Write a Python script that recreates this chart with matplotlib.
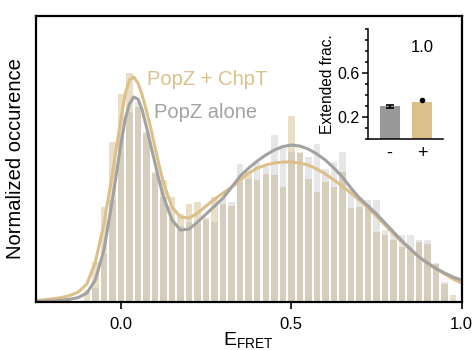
import numpy as np
import matplotlib
matplotlib.use("Agg")
import matplotlib.pyplot as plt
from matplotlib.ticker import MultipleLocator

plt.rcParams["font.family"] = ["Liberation Sans", "DejaVu Sans"]
plt.rcParams["mathtext.fontset"] = "custom"
plt.rcParams["mathtext.rm"] = "Liberation Sans"

# histogram bins (E_FRET centres, width 0.025)
bin_centers = np.round(np.arange(-0.1, 0.976, 0.025), 3)
# occurrence, arbitrary units
hist_chpt = [12, 40, 95, 160, 208, 229, 195, 170, 130, 122, 105, 88,
             98, 100, 84, 105, 98, 96, 120, 130, 122, 128, 127, 115,
             186, 149, 123, 110, 120, 115, 130, 94, 95, 97, 70, 67,
             62, 55, 52, 60, 58, 38, 18, 7]
hist_alone = [0, 14, 49, 102, 168, 190, 200, 168, 128, 105, 82, 76,
              80, 78, 82, 80, 104, 100, 138, 123, 140, 135, 167, 155,
              150, 150, 145, 158, 133, 140, 150, 112, 105, 102, 102, 72,
              70, 67, 67, 62, 62, 39, 20, 0]

# fitted curves
fit_x = [-0.25, -0.225, -0.2, -0.175, -0.15, -0.125, -0.1, -0.075, -0.05,
         -0.025, 0.0, 0.0125, 0.025, 0.0375, 0.05, 0.0625, 0.075, 0.0875,
         0.1, 0.1125, 0.125, 0.15, 0.175, 0.2, 0.225, 0.25, 0.275, 0.3,
         0.325, 0.35, 0.375, 0.4, 0.425, 0.45, 0.475, 0.5, 0.525, 0.55,
         0.575, 0.6, 0.625, 0.65, 0.675, 0.7, 0.725, 0.75, 0.775, 0.8,
         0.825, 0.85, 0.875, 0.9, 0.925, 0.95, 0.975, 1.0]
fit_chpt = [1.5, 2.2, 3.3, 4.5, 6.5, 10, 18, 40, 78,
            128, 183, 208, 222, 225, 219, 207, 191, 174,
            155, 136, 119, 95, 85, 84, 89, 96, 103, 109,
            115, 122, 129, 134, 137, 139, 140, 140, 139, 137,
            133, 128, 122, 116, 109, 102, 94, 86, 77, 68,
            60, 52, 45, 38.5, 33, 28, 23, 19]
fit_alone = [0.5, 0.8, 1.2, 1.8, 2.8, 4.5, 9, 22, 52,
             102, 158, 183, 198, 205, 203, 192, 175, 157,
             139, 121, 105, 82, 72, 73, 80, 88, 96, 104,
             115, 126, 134, 141, 147, 152, 155.5, 157, 156, 153,
             148, 142, 134, 125, 114, 104, 96, 88, 79, 70,
             61, 53, 45, 39, 33.5, 29, 25, 22]

# inset
inset_labels = ["-", "+"]
inset_vals = [0.30, 0.34]
inset_err = [0.012, 0.0]
inset_point = 0.355

tan = "#dcc08a"
grey = "#a2a2a2"

fig = plt.figure(figsize=(4.75, 3.5), dpi=100)
ax = fig.add_axes([0.0752, 0.137, 0.8968, 0.818])

ax.bar(bin_centers, hist_chpt, width=0.019, color="#c8af73", alpha=0.4, linewidth=0)
ax.bar(bin_centers, hist_alone, width=0.019, color="#a3a3a3", alpha=0.27, linewidth=0)
ax.plot(fit_x, fit_chpt, color=tan, lw=2.2, solid_joinstyle="round")
ax.plot(fit_x, fit_alone, color=grey, lw=2.2, solid_joinstyle="round")

ax.text(0.076, 217, "PopZ + ChpT", color=tan, fontsize=14.5, va="baseline")
ax.text(0.098, 183.7, "PopZ alone", color=grey, fontsize=14.5, va="baseline")

ax.set_xlim(-0.25, 1.0)
ax.set_ylim(0, 286.3)
ax.set_xticks([0.0, 0.5, 1.0])
ax.set_xticklabels(["0.0", "0.5", "1.0"])
ax.set_yticks([])
ax.tick_params(axis="x", direction="out", length=5, width=1.2, labelsize=12, pad=6)
for s in ax.spines.values():
    s.set_linewidth(1.6)
ax.set_xlabel(r"$\mathrm{E}_{\mathrm{FRET}}$", fontsize=14, labelpad=-1)
ax.set_ylabel("Normalized occurence", fontsize=14.5, labelpad=8)

ins = fig.add_axes([0.7754, 0.602, 0.1566, 0.315])
ins.bar([0, 1], inset_vals, width=0.62, color=["#999999", tan])
ins.errorbar([0], inset_vals[0], yerr=inset_err[0], fmt="none", ecolor="black",
             elinewidth=1.2, capsize=3, capthick=1.2)
ins.plot([1], [inset_point], "o", color="black", ms=3)
ins.text(1.0, 0.83, "1.0", fontsize=12, ha="center", va="center")
ins.set_xlim(-0.66, 1.64)
ins.set_ylim(0, 1.0)
ins.set_xticks([0, 1])
ins.set_xticklabels(inset_labels, fontsize=13)
ins.set_yticks([0.2, 0.6])
ins.yaxis.set_minor_locator(MultipleLocator(0.1))
ins.tick_params(axis="x", length=0, pad=4)
ins.tick_params(axis="y", which="major", length=4, width=1.1, labelsize=11.5, pad=2)
ins.tick_params(axis="y", which="minor", length=2.5, width=1.1)
ins.spines["top"].set_visible(False)
ins.spines["right"].set_visible(False)
ins.spines["left"].set_linewidth(1.1)
ins.spines["bottom"].set_linewidth(1.1)
ins.set_ylabel("Extended frac.", fontsize=11.2, labelpad=2)
ins.patch.set_alpha(0)

fig.savefig("out.png", dpi=100)
